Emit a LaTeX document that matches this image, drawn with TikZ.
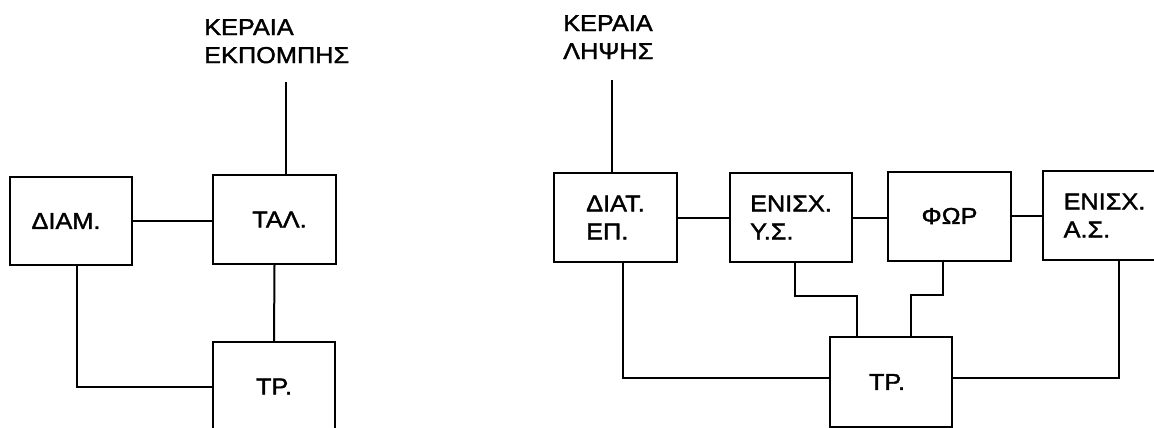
\documentclass[tikz,border=0pt]{standalone}
\usepackage{fontspec}
\setmainfont[FakeBold=1.6,FakeStretch=1.1]{Liberation Sans}
\begin{document}
\begin{tikzpicture}[x=1pt,y=1pt,
  blk/.style={draw,line width=2pt,minimum width=123pt,minimum height=89pt,inner sep=0pt,align=left,font=\fontsize{23}{28}\selectfont},
  lbl/.style={anchor=north west,inner sep=0pt,align=left,font=\fontsize{23}{28}\selectfont},
  wire/.style={line width=2pt}]
\clip (0,0) rectangle (1154,-428);
\fill[white] (0,0) rectangle (1154,-428);
% left diagram
\node[blk,minimum width=122pt,minimum height=88pt] (diam) at (71,-221) {ΔΙΑΜ.\hspace*{10pt}};
\node[blk] (tal) at (274.5,-219.5) {\hspace*{10pt}ΤΑΛ.};
\node[blk,minimum width=122pt] (trL) at (274,-386.5) {ΤΡ.};
\node[lbl] (kL) at (204,-19) {ΚΕΡΑΙΑ\\ΕΚΠΟΜΠΗΣ};
\coordinate (antL) at (286,-82);
\draw[wire] (antL) -- (antL |- tal.north);
\draw[wire] (diam.east) -- (diam.east -| tal.west);
\draw[wire] (tal.south) -- (trL.north);
\draw[wire] ([xshift=6pt]diam.south) |- (trL.west);
% right diagram
\node[blk] (diat) at (615.5,-217.5) {ΔΙΑΤ.\\ΕΠ.};
\node[blk,minimum width=122pt] (ys) at (791,-217.5) {ΕΝΙΣΧ.\\Υ.Σ.};
\node[blk] (for) at (949.5,-216) {ΦΩΡ};
\node[blk] (as) at (1104.5,-215.5) {ΕΝΙΣΧ.\\Α.Σ.};
\node[blk,minimum width=122pt,minimum height=90pt] (trR) at (891,-382) {ΤΡ.\hspace*{8pt}};
\node[lbl] (kR) at (563,-15) {ΚΕΡΑΙΑ\\ΛΗΨΗΣ};
\coordinate (antR) at (612,-80);
\draw[wire] (antR) -- (antR |- diat.north);
\draw[wire] (diat.east) -- (diat.east -| ys.west);
\draw[wire] (ys.east) -- (ys.east -| for.west);
\draw[wire] (for.east) -- (for.east -| as.west);
\draw[wire] ([xshift=7.5pt]diat.south) |- ([yshift=4.5pt]trR.west);
\draw[wire] ([xshift=4pt]ys.south) -- ++(0,-33) -| ([xshift=-34pt]trR.north);
\draw[wire] ([xshift=-6.5pt]for.south) -- ++(0,-33) -| ([xshift=20pt]trR.north);
\draw[wire] ([xshift=14.5pt]as.south) |- ([yshift=4.5pt]trR.east);
\end{tikzpicture}
\end{document}
